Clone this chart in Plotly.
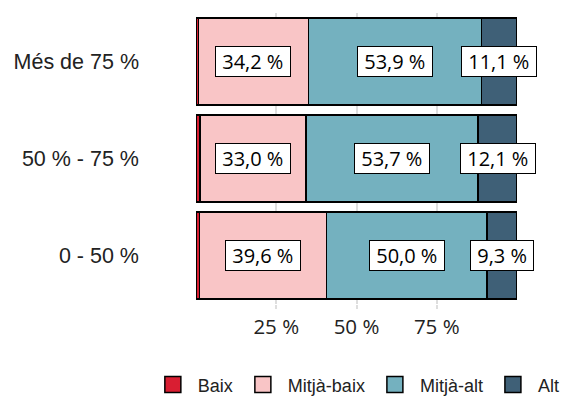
import plotly.graph_objects as go

categories = ["Més de 75 %", "50 % - 75 %", "0 - 50 %"]
levels = ["Baix", "Mitjà-baix", "Mitjà-alt", "Alt"]
baix = [0.8, 1.2, 1.1]
mitja_baix = [34.2, 33.0, 39.6]
mitja_alt = [53.9, 53.7, 50.0]
alt = [11.1, 12.1, 9.3]
colors = ["#d91e32", "#f9c5c6", "#74b1bf", "#3f6077"]

series = [baix, mitja_baix, mitja_alt, alt]

fig = go.Figure()
for name, vals, col in zip(levels, series, colors):
    fig.add_trace(go.Bar(
        y=categories, x=vals, name=name, orientation="h",
        marker=dict(color=col, line=dict(color="black", width=1.5)),
        width=0.9, hoverinfo="skip", showlegend=False,
    ))
    # legend-only entry with a bigger square swatch
    fig.add_trace(go.Scatter(
        x=[None], y=[None], mode="markers", name=name,
        marker=dict(symbol="square", size=16, color=col,
                    line=dict(color="black", width=1.5)),
    ))

# value labels (skip the tiny "Baix" segment)
annotations = []
for i, cat in enumerate(categories):
    left = 0
    for j, vals in enumerate(series):
        v = vals[i]
        if j > 0:
            annotations.append(dict(
                x=left + v / 2, y=cat, xref="x", yref="y",
                text="\u00a0" + f"{v:.1f} %".replace(".", ",") + "\u00a0",
                showarrow=False,
                font=dict(family="Open Sans", size=20, color="black"),
                bgcolor="white", bordercolor="black", borderwidth=1, borderpad=1,
            ))
        left += v

# note: the page body adds an 8px offset, margins compensate for it
fig.update_layout(
    barmode="stack",
    width=569, height=401,
    margin=dict(l=188, r=60, t=5, b=105, autoexpand=False),
    plot_bgcolor="white", paper_bgcolor="white",
    annotations=annotations,
    legend=dict(
        orientation="h", x=-0.15, xanchor="left",
        y=-0.278, yanchor="middle",
        font=dict(family="Liberation Sans", size=18, color="#222"),
        traceorder="normal", itemwidth=40,
    ),
    xaxis=dict(
        range=[0, 100], tickvals=[25, 50, 75], ticktext=["25 %", "50 %", "75 %"],
        showgrid=True, gridcolor="#dedede", gridwidth=2, zeroline=False,
        tickfont=dict(family="Open Sans", size=20.5, color="#222"),
        ticks="outside", ticklen=4, tickwidth=2, tickcolor="#dedede",
        automargin=False,
    ),
    yaxis=dict(
        categoryorder="array", categoryarray=categories,
        range=[2.5, -0.5],
        tickfont=dict(family="Liberation Sans", size=21.5, color="#222"),
        ticks="", ticklabelstandoff=56, showgrid=False, automargin=False,
    ),
)

fig.write_html("out.html")
